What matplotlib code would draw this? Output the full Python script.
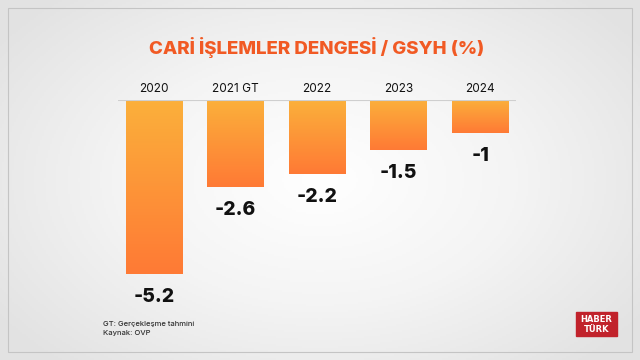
import numpy as np
import matplotlib.pyplot as plt
from matplotlib.colors import LinearSegmentedColormap
from matplotlib.patches import Rectangle

years = ['2020', '2021 GT', '2022', '2023', '2024']
values = [-5.2, -2.6, -2.2, -1.5, -1.0]
value_labels = ['-5.2', '-2.6', '-2.2', '-1.5', '-1']
title = 'CARİ İŞLEMLER DENGESİ / GSYH (%)'
notes = ['GT: Gerçekleşme tahmini', 'Kaynak: OVP']

W, H = 640, 360
fig = plt.figure(figsize=(6.4, 3.6), dpi=100)

# background: gray edges, white middle
bg = fig.add_axes([0, 0, 1, 1])
yy, xx = np.mgrid[0:1:180j, 0:1:320j]
r = np.sqrt(((xx - 0.5) / 0.62) ** 2 + ((yy - 0.5) / 0.7) ** 2)
bg.imshow(np.clip(r, 0, 1), cmap=LinearSegmentedColormap.from_list('bg', ['#ffffff', '#f4f4f4', '#e2e2e2']),
          extent=[0, W, H, 0], aspect='auto', vmin=0, vmax=1)
bg.add_patch(Rectangle((8, 8), W - 16, H - 16, fill=False, ec='#c4c4c4', lw=0.8))
bg.set_xlim(0, W)
bg.set_ylim(H, 0)
bg.axis('off')

bg.text(317, 48, title, color='#f15a24', fontsize=13.5, fontweight='heavy',
        family=['Inter', 'DejaVu Sans'], ha='center', va='center')
for i, n in enumerate(notes):
    bg.text(103, 324 + i * 9, n, fontsize=5.5, color='#333333', family=['Inter', 'DejaVu Sans'],
            fontweight='medium', ha='left', va='center')

# logo
bg.add_patch(Rectangle((576, 312), 41, 24, color='#c1222b'))
bg.text(596.5, 319, 'HABER', color='white', fontsize=6, fontweight='bold', ha='center', va='center')
bg.text(596.5, 329, 'TÜRK', color='white', fontsize=6, fontweight='bold', ha='center', va='center')

# chart axes: baseline at y=100px, x from 118 to 516
left, right, top, bottom = 118, 516, 100, 300
ax = fig.add_axes([left / W, 1 - bottom / H, (right - left) / W, (bottom - top) / H])
ax.axis('off')

cmap = LinearSegmentedColormap.from_list('bar', ['#fbb03b', '#ff7a35'])
grad = np.linspace(0, 1, 100).reshape(-1, 1)
bw = 0.69
x = np.arange(len(years))
for xi, v, lab, yr in zip(x, values, value_labels, years):
    ax.imshow(grad, cmap=cmap, extent=[xi - bw / 2, xi + bw / 2, v, 0], aspect='auto', origin='upper')
    ax.annotate(lab, (xi, v), xytext=(0, -10), textcoords='offset points', ha='center', va='top',
                fontsize=14, fontweight='heavy', color='#111111', family=['Inter', 'DejaVu Sans'])
    ax.annotate(yr, (xi, 0), xytext=(0, 8), textcoords='offset points', ha='center', va='center',
                fontsize=8.5, color='#111111', family=['Inter', 'DejaVu Sans'], annotation_clip=False)
ax.axhline(0, color='#cfcfcf', lw=0.8)
ax.set_xlim(-0.44, 4.44)
ax.set_ylim(-(bottom - top) / 33.5, 0)

fig.savefig('out.png', dpi=100)
